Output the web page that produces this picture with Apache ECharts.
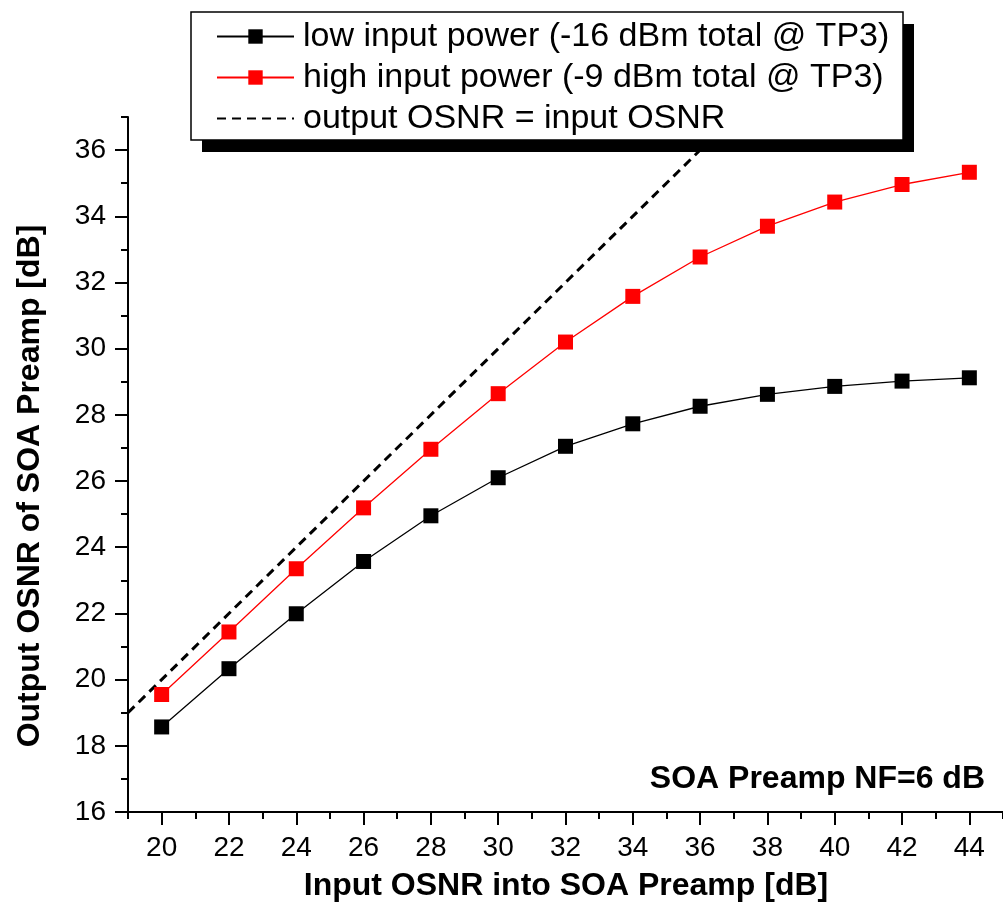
<!DOCTYPE html>
<html>
<head>
<meta charset="utf-8">
<style>html,body{margin:0;padding:0;background:#fff}#c{width:1003px;height:915px}</style>
<script src="https://cdn.jsdelivr.net/npm/echarts@6/dist/echarts.min.js"></script>
</head>
<body>
<div id="c"></div>
<script>
var inputOSNR = [20, 22, 24, 26, 28, 30, 32, 34, 36, 38, 40, 42, 44];
var lowPower  = [18.57, 20.33, 21.99, 23.57, 24.95, 26.10, 27.05, 27.73, 28.26, 28.62, 28.86, 29.02, 29.12];
var highPower = [19.55, 21.44, 23.35, 25.19, 26.96, 28.64, 30.20, 31.58, 32.77, 33.70, 34.43, 34.96, 35.33];
var refLine = [[19, 19], [37, 37]];
var xMajorTicks = [20, 22, 24, 26, 28, 30, 32, 34, 36, 38, 40, 42, 44];
var yMajorTicks = [16, 18, 20, 22, 24, 26, 28, 30, 32, 34, 36];
var seriesNames = ['low input power (-16 dBm total @ TP3)', 'high input power (-9 dBm total @ TP3)', 'output OSNR = input OSNR'];
var xTitle = 'Input OSNR into SOA Preamp [dB]';
var yTitle = 'Output OSNR of SOA Preamp [dB]';
var note = 'SOA Preamp NF=6 dB';

var FONT = '"Liberation Sans", Arial, sans-serif';
function pairs(xs, ys) { return xs.map(function (x, i) { return [x, ys[i]]; }); }

var chart = echarts.init(document.getElementById('c'), null, {renderer: 'canvas'});
var axisLine = {show: true, lineStyle: {color: '#000', width: 2}};
chart.setOption({
  animation: false,
  backgroundColor: '#fff',
  grid: {left: 128, right: 0, top: 117, bottom: 103, containLabel: false},
  xAxis: [
    {type: 'value', min: 19, max: 45, interval: 1, position: 'bottom',
     axisLine: axisLine, axisTick: {show: true, length: 7, lineStyle: {color: '#000', width: 2}},
     axisLabel: {show: false}, splitLine: {show: false}},
    {type: 'value', min: 19, max: 45, interval: 1, position: 'bottom',
     axisLine: {show: false},
     axisTick: {show: true, length: 13, customValues: xMajorTicks, lineStyle: {color: '#000', width: 2}},
     axisLabel: {show: true, customValues: xMajorTicks, fontSize: 28, color: '#000', fontFamily: FONT, margin: 22},
     splitLine: {show: false}}
  ],
  yAxis: [
    {type: 'value', min: 16, max: 37, interval: 1, position: 'left',
     axisLine: axisLine, axisTick: {show: true, length: 7, lineStyle: {color: '#000', width: 2}},
     axisLabel: {show: false}, splitLine: {show: false}},
    {type: 'value', min: 16, max: 37, interval: 1, position: 'left',
     axisLine: {show: false},
     axisTick: {show: true, length: 13, customValues: yMajorTicks, lineStyle: {color: '#000', width: 2}},
     axisLabel: {show: true, customValues: yMajorTicks, fontSize: 28, color: '#000', fontFamily: FONT, margin: 22},
     splitLine: {show: false}}
  ],
  legend: {
    orient: 'vertical', left: 216, top: 19, z: 5,
    padding: 0, itemGap: 6, itemWidth: 77, itemHeight: 18,
    textStyle: {fontSize: 34, color: '#000', fontFamily: FONT, lineHeight: 35, padding: [0, 0, 0, 4]},
    data: [
      {name: seriesNames[0]},
      {name: seriesNames[1]},
      {name: seriesNames[2], itemStyle: {opacity: 0}}
    ]
  },
  graphic: [
    {type: 'rect', z: 3, shape: {x: 202, y: 24, width: 712, height: 128},
     style: {fill: '#000'}},
    {type: 'rect', z: 3, shape: {x: 191, y: 12, width: 712, height: 128},
     style: {fill: '#fff', stroke: '#000', lineWidth: 1.5}},
    {type: 'text', x: 566, y: 886, z: 10,
     style: {text: xTitle, font: 'bold 32px ' + FONT, fill: '#000', align: 'center', verticalAlign: 'middle'}},
    {type: 'text', x: 30, y: 486, rotation: Math.PI / 2, z: 10,
     style: {text: yTitle, font: 'bold 32px ' + FONT, fill: '#000', align: 'center', verticalAlign: 'middle'}},
    {type: 'text', x: 985, y: 779, z: 10,
     style: {text: note, font: 'bold 32px ' + FONT, fill: '#000', align: 'right', verticalAlign: 'middle'}}
  ],
  series: [
    {name: seriesNames[0], type: 'line', data: pairs(inputOSNR, lowPower),
     symbol: 'rect', symbolSize: 15, color: '#000',
     lineStyle: {color: '#000', width: 1.3}, itemStyle: {color: '#000'}, z: 2},
    {name: seriesNames[1], type: 'line', data: pairs(inputOSNR, highPower),
     symbol: 'rect', symbolSize: 15, color: '#ff0000',
     lineStyle: {color: '#ff0000', width: 1.3}, itemStyle: {color: '#ff0000'}, z: 2},
    {name: seriesNames[2], type: 'line', data: refLine, symbol: 'none', color: '#000',
     lineStyle: {color: '#000', width: 3, type: [9, 6]}, z: 2}
  ]
});
</script>
</body>
</html>
